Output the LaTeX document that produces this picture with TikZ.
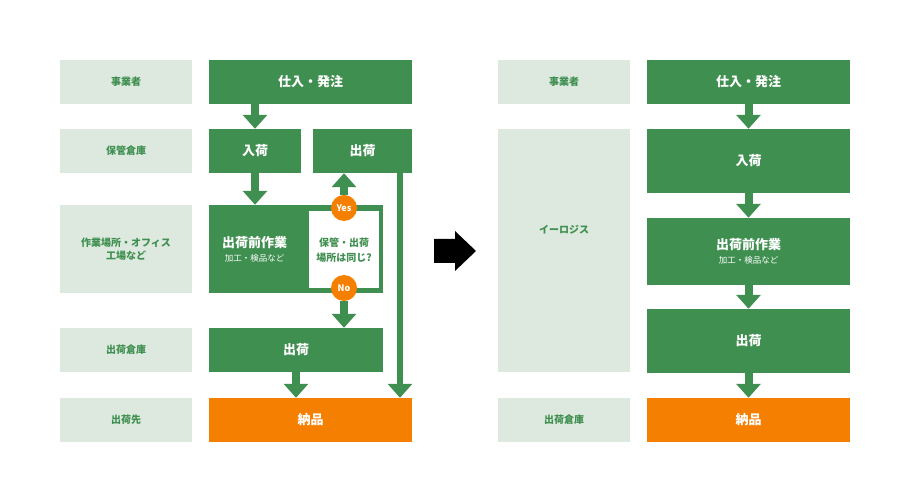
\documentclass[tikz,border=0pt]{standalone}
\usepackage{fontspec}
\setmainfont{Noto Sans CJK JP}
\usetikzlibrary{positioning,arrows.meta}
\definecolor{mgreen}{HTML}{3F8F50}
\definecolor{lgreen}{HTML}{DDE9DF}
\definecolor{morange}{HTML}{F57F00}
\begin{document}
\begin{tikzpicture}[x=1pt,y=-1pt,
    labelbox/.style={fill=lgreen, text=mgreen, font=\fontsize{10}{13}\selectfont\bfseries, inner sep=0pt, align=center, minimum width=132pt},
    stepbox/.style={fill=mgreen, text=white, font=\fontsize{13}{15}\selectfont\bfseries, inner sep=0pt, align=center},
    endbox/.style={fill=morange, text=white, font=\fontsize{13}{15}\selectfont\bfseries, inner sep=0pt, minimum width=203pt, minimum height=44pt},
    flow/.style={draw=mgreen, line width=8pt, -{Triangle[width=24pt,length=14pt]}},
    answer/.style={circle, fill=morange, text=white, minimum size=26pt, inner sep=0pt, font=\fontsize{9}{10}\selectfont\bfseries}
    ]
    \useasboundingbox (0,0) rectangle (910,502);
    %Left labels
    \node[labelbox, minimum height=44pt] (l1) at (126,82) {事業者};
    \node[labelbox, minimum height=44pt] (l2) at (126,151) {保管倉庫};
    \node[labelbox, minimum height=88pt] (l3) at (126,249) {作業場所・オフィス\\工場など};
    \node[labelbox, minimum height=44pt] (l4) at (126,350) {出荷倉庫};
    \node[labelbox, minimum height=44pt] (l5) at (126,420) {出荷先};
    %Left steps
    \node[stepbox, minimum width=203pt, minimum height=44pt] (order) at (310.5,82) {仕入・発注};
    \node[stepbox, minimum width=92pt, minimum height=44pt] (inL) at (255,151) {入荷};
    \node[stepbox, minimum width=99pt, minimum height=44pt] (outU) at (362.5,151) {出荷};
    \node[stepbox, minimum width=174pt, minimum height=88pt] (work) at (296,249) {};
    \node[stepbox, anchor=west] (workT) at (222,249) {出荷前作業\\[-1pt]{\fontsize{8.5}{10}\selectfont\mdseries 加工・検品など}};
    \node[fill=white, text=mgreen, minimum width=70pt, minimum height=77pt, inner sep=0pt, align=center, font=\fontsize{10}{15}\selectfont\bfseries] (ask) at (344,250) {保管・出荷\\場所は同じ?};
    \node[answer] (yes) at (344,208) {Yes};
    \node[answer] (no) at (344,288) {No};
    \node[stepbox, minimum width=174pt, minimum height=44pt] (outL) at (296,350) {出荷};
    \node[endbox] (shipL) at (310.5,420) {納品};
    %Left arrows
    \draw[flow] (order.south -| inL) -- (inL.north);
    \draw[flow] (inL.south) -- (work.north -| inL);
    \draw[flow] (yes.north) -- (outU.south -| yes);
    \draw[flow] (no.south) -- (outL.north -| no);
    \coordinate (p1) at (296,372);
    \draw[flow] (p1) -- (shipL.north -| p1);
    \coordinate (p2) at (400,173);
    \draw[flow, line width=6pt] (p2) -- (shipL.north -| p2);
    %Big arrow
    \fill[black] (434,239) -- (455,239) -- (455,231) -- (476,251) -- (455,271) -- (455,263) -- (434,263) -- cycle;
    %Right labels
    \node[labelbox, minimum height=44pt] (r1) at (564,82) {事業者};
    \node[labelbox, minimum height=243pt] (r2) at (564,250.5) {};
    \node[labelbox] (r2t) at (564,230) {イーロジス};
    \node[labelbox, minimum height=44pt] (r3) at (564,420) {出荷倉庫};
    %Right steps
    \node[stepbox, minimum width=203pt, minimum height=44pt] (orderR) at (748.5,82) {仕入・発注};
    \node[stepbox, minimum width=203pt, minimum height=64pt] (inR) at (748.5,161) {入荷};
    \node[stepbox, minimum width=203pt, minimum height=67pt] (workR) at (748.5,251.5) {出荷前作業\\[-1pt]{\fontsize{8.5}{10}\selectfont\mdseries 加工・検品など}};
    \node[stepbox, minimum width=203pt, minimum height=64pt] (outR) at (748.5,341) {出荷};
    \node[endbox] (shipR) at (748.5,420) {納品};
    %Right arrows
    \draw[flow] (orderR.south) -- (inR.north);
    \draw[flow] (inR.south) -- (workR.north);
    \draw[flow] (workR.south) -- (outR.north);
    \draw[flow] (outR.south) -- (shipR.north);
\end{tikzpicture}
\end{document}
